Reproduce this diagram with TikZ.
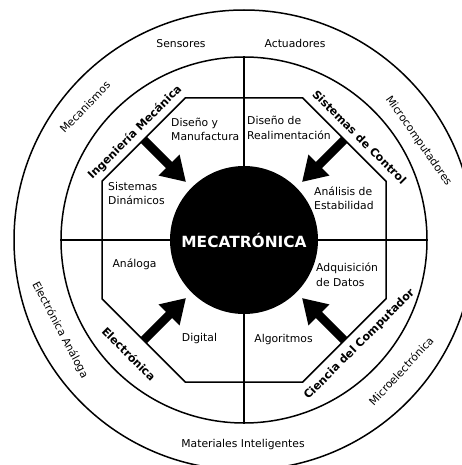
\documentclass[tikz,border=0pt]{standalone}
\usepackage{fontspec}
\setmainfont{DejaVu Sans}
\usetikzlibrary{arrows.meta}
\begin{document}
\begin{tikzpicture}[x=1pt,y=-1pt,
  ring/.style={draw, circle, line width=1.5pt, inner sep=0pt},
  lbl/.style={font=\fontsize{10.8}{14.5}\selectfont, inner sep=0pt, align=left},
  blbl/.style={font=\bfseries\fontsize{11.2}{13}\selectfont, inner sep=0pt},
  bigarrow/.style={line width=8.5pt, -{Triangle[length=24pt,width=28pt]}},
  edgeline/.style={line width=1.5pt}]
\path[use as bounding box] (0,0) rectangle (462,465);
\clip (0,0) rectangle (462,465);
\fill[white] (0,0) rectangle (462,465);
% rings
\node[ring, minimum size=460pt] (outer) at (244,240) {};
\node[ring, minimum size=366pt] (mid) at (244,240) {};
% octagon
\coordinate (o1) at (185.2,98);
\coordinate (o2) at (302.8,98);
\coordinate (o3) at (386,181.2);
\coordinate (o4) at (386,298.8);
\coordinate (o5) at (302.8,382);
\coordinate (o6) at (185.2,382);
\coordinate (o7) at (102,298.8);
\coordinate (o8) at (102,181.2);
\draw[edgeline] (o1) -- (o2) -- (o3) -- (o4) -- (o5) -- (o6) -- (o7) -- (o8) -- cycle;
% core
\node[circle, fill=black, minimum size=148pt, inner sep=0pt, text=white,
      font=\bfseries\fontsize{15.4}{18}\selectfont] (core) at (244,240) {MECATRÓNICA};
% cross lines
\draw[edgeline] (mid.north) -- (core.north);
\draw[edgeline] (mid.south) -- (core.south);
\draw[edgeline] (mid.west) -- (core.west);
\draw[edgeline] (mid.east) -- (core.east);
% arrows
\coordinate (a1s) at (143.6,139.6); \coordinate (a1e) at (186,182);
\coordinate (a2s) at (344.4,139.6); \coordinate (a2e) at (302,182);
\coordinate (a3s) at (143.6,340.4); \coordinate (a3e) at (186,298);
\coordinate (a4s) at (344.4,340.4); \coordinate (a4e) at (302,298);
\draw[bigarrow] (a1s) -- (a1e);
\draw[bigarrow] (a2s) -- (a2e);
\draw[bigarrow] (a3s) -- (a3e);
\draw[bigarrow] (a4s) -- (a4e);
% outer labels
\node[lbl] (sens) at (181,43.5) {Sensores};
\node[lbl] (act) at (295,43) {Actuadores};
\node[lbl, rotate=46] (mec) at (85,107) {Mecanismos};
\node[lbl, rotate=-55] (micc) at (418.5,141) {Microcomputadores};
\node[lbl, rotate=-62] (ea) at (60,330) {Electrónica Análoga};
\node[lbl, rotate=47] (mice) at (401,371) {Microelectrónica};
\node[lbl] (mat) at (243,445) {Materiales Inteligentes};
% discipline labels
\node[blbl, rotate=45] (im) at (135,132.5) {Ingeniería Mecánica};
\node[blbl, rotate=-45] (sc) at (359.5,137) {Sistemas de Control};
\node[blbl, rotate=-45] (el) at (129,354) {Electrónica};
\node[blbl, rotate=45] (cc) at (359.5,344.5) {Ciencia del Computador};
% inner labels
\node[lbl, anchor=west] (dm) at (171,129.5) {Diseño y\\Manufactura};
\node[lbl, anchor=west] (dr) at (247,128) {Diseño de\\Realimentación};
\node[lbl, anchor=west] (sd) at (108,193.5) {Sistemas\\Dinámicos};
\node[lbl, anchor=west] (ae) at (314,198.5) {Análisis de\\Estabilidad};
\node[lbl, anchor=west] (ad) at (316,275) {Adquisición\\de Datos};
\node[lbl] (an) at (134.5,264) {Análoga};
\node[lbl] (dg) at (199.5,339) {Digital};
\node[lbl] (al) at (283.5,339.5) {Algoritmos};
\end{tikzpicture}
\end{document}
